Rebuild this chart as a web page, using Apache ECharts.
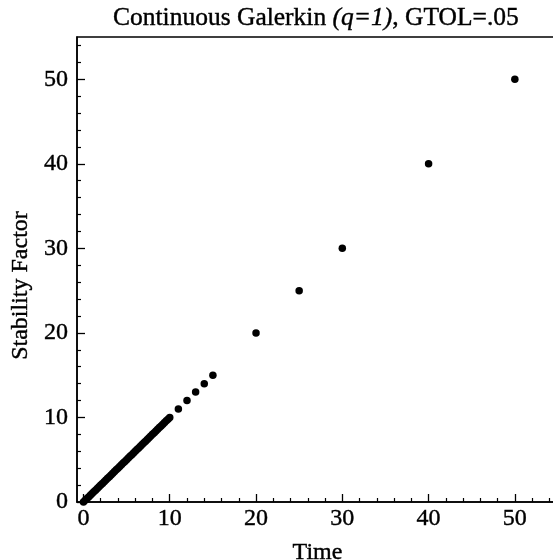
<!DOCTYPE html>
<html>
<head>
<meta charset="utf-8">
<script src="https://cdn.jsdelivr.net/npm/echarts@6/dist/echarts.min.js"></script>
<style>
html,body{margin:0;padding:0;background:#fff;}
#c{width:553px;height:560px;}
</style>
</head>
<body>
<div id="c"></div>
<script>
var timeValues = [0, 0.2, 0.4, 0.6, 0.8, 1, 1.2, 1.4, 1.6, 1.8, 2, 2.2, 2.4, 2.6, 2.8, 3, 3.2, 3.4, 3.6, 3.8, 4, 4.2, 4.4, 4.6, 4.8, 5, 5.2, 5.4, 5.6, 5.8, 6, 6.2, 6.4, 6.6, 6.8, 7, 7.2, 7.4, 7.6, 7.8, 8, 8.2, 8.4, 8.6, 8.8, 9, 9.2, 9.4, 9.6, 9.8, 10, 11, 12, 13, 14, 15, 20, 25, 30, 40, 50];
var stabilityValues = [0, 0.2, 0.4, 0.6, 0.8, 1, 1.2, 1.4, 1.6, 1.8, 2, 2.2, 2.4, 2.6, 2.8, 3, 3.2, 3.4, 3.6, 3.8, 4, 4.2, 4.4, 4.6, 4.8, 5, 5.2, 5.4, 5.6, 5.8, 6, 6.2, 6.4, 6.6, 6.8, 7, 7.2, 7.4, 7.6, 7.8, 8, 8.2, 8.4, 8.6, 8.8, 9, 9.2, 9.4, 9.6, 9.8, 10, 11, 12, 13, 14, 15, 20, 25, 30, 40, 50];
var majorTicks = [0, 10, 20, 30, 40, 50];
var minorTicks = [2, 4, 6, 8, 12, 14, 16, 18, 22, 24, 26, 28, 32, 34, 36, 38, 42, 44, 46, 48, 52, 54];

var points = timeValues.map(function (t, i) { return [t, stabilityValues[i]]; });
var font = '"Liberation Serif", "Times New Roman", serif';
function txt(size, extra) {
  var o = { fontFamily: font, fontSize: size, fontWeight: 'normal', color: '#000', textBorderColor: '#000', textBorderWidth: 0.4 };
  if (extra) { for (var k in extra) o[k] = extra[k]; }
  return o;
}
var chart = echarts.init(document.getElementById('c'));
chart.setOption({
  backgroundColor: '#fff',
  animation: false,
  title: {
    text: 'Continuous Galerkin {i|(q=1)}, GTOL=.05',
    left: 108, top: 0,
    textStyle: txt(25.5, { rich: { i: txt(25.5, { fontStyle: 'italic' }) } })
  },
  grid: {
    left: 77, right: -5, top: 37, bottom: 58,
    outerBoundsMode: 'none', containLabel: false,
    show: true, borderColor: '#000', borderWidth: 1.5, backgroundColor: 'transparent'
  },
  xAxis: [{
    type: 'value', min: -0.75, max: 55, position: 'bottom',
    name: 'Time', nameLocation: 'middle', nameGap: 39,
    nameTextStyle: txt(24),
    axisLine: { show: true, onZero: false, lineStyle: { color: '#000', width: 1.5 } },
    axisTick: { show: true, inside: true, length: 8, customValues: majorTicks, lineStyle: { color: '#000', width: 1.3 } },
    axisLabel: Object.assign({ customValues: majorTicks, margin: 5 }, txt(24)),
    splitLine: { show: false }
  }, {
    type: 'value', min: -0.75, max: 55, position: 'bottom',
    axisLine: { show: false, onZero: false },
    axisTick: { show: true, inside: true, length: 4, customValues: minorTicks, lineStyle: { color: '#000', width: 1.2 } },
    axisLabel: { show: false },
    splitLine: { show: false }
  }],
  yAxis: [{
    type: 'value', min: 0, max: 55, position: 'left',
    name: 'Stability Factor', nameLocation: 'middle', nameGap: 44,
    nameTextStyle: txt(24, { padding: [0, 32, 0, 0] }),
    axisLine: { show: true, onZero: false, lineStyle: { color: '#000', width: 1.5 } },
    axisTick: { show: true, inside: true, length: 8, customValues: majorTicks, lineStyle: { color: '#000', width: 1.3 } },
    axisLabel: Object.assign({ customValues: majorTicks, margin: 9 }, txt(24)),
    splitLine: { show: false }
  }, {
    type: 'value', min: 0, max: 55, position: 'left',
    axisLine: { show: false, onZero: false },
    axisTick: { show: true, inside: true, length: 4, customValues: minorTicks, lineStyle: { color: '#000', width: 1.2 } },
    axisLabel: { show: false },
    splitLine: { show: false }
  }],
  series: [{
    type: 'scatter', xAxisIndex: 0, yAxisIndex: 0,
    data: points, symbol: 'circle', symbolSize: 7.5, clip: false,
    itemStyle: { color: '#000', opacity: 1 }
  }]
});
</script>
</body>
</html>
